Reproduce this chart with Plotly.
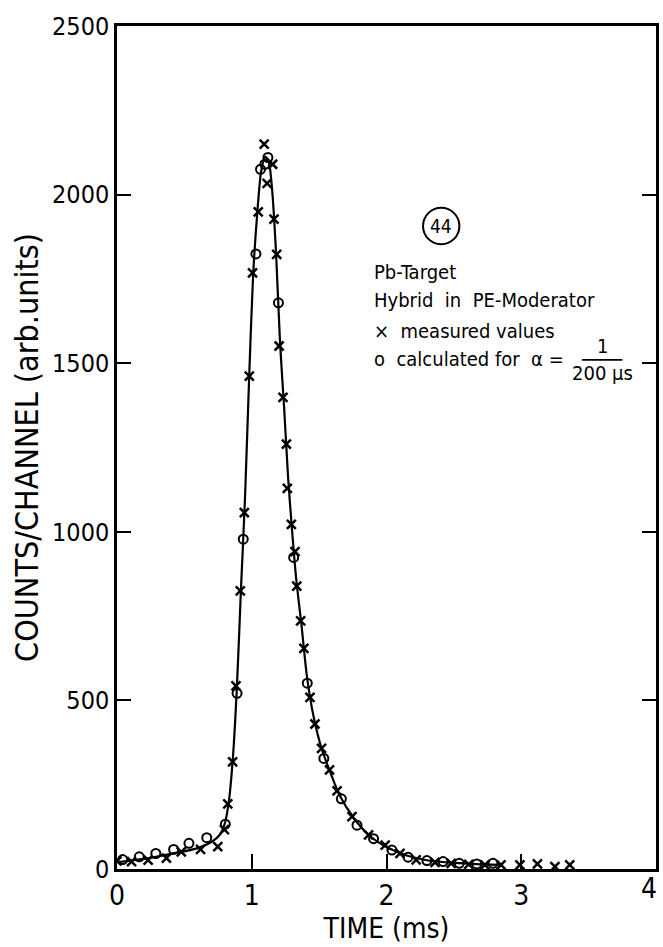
import plotly.graph_objects as go

# measured values (x markers)
meas_x = [0.0, 0.108, 0.231, 0.367, 0.477, 0.62, 0.748, 0.797, 0.822, 0.858, 0.883, 0.915,
          0.945, 0.982, 1.006, 1.048, 1.092, 1.114, 1.155, 1.165, 1.185, 1.203, 1.232, 1.257,
          1.264, 1.294, 1.321, 1.334, 1.363, 1.387, 1.432, 1.469, 1.518, 1.577, 1.633, 1.744,
          1.867, 1.99, 2.10, 2.22, 2.36, 2.48, 2.61, 2.73, 2.85, 2.99, 3.12, 3.25, 3.36]
meas_y = [24, 22, 26, 32, 51, 58, 66, 117, 193, 318, 543, 825,
          1057, 1462, 1768, 1949, 2150, 2033, 2090, 1927, 1823, 1551, 1399, 1260,
          1129, 1022, 941, 839, 736, 654, 509, 430, 358, 294, 232, 155,
          101, 71, 46, 27, 20, 17, 14, 12, 12, 12, 15, 7, 12]

# calculated for alpha = 1/200 us (open circles)
calc_x = [0.042, 0.165, 0.288, 0.42, 0.534, 0.666, 0.804, 0.891, 0.937, 1.031, 1.065, 1.097,
          1.12, 1.198, 1.311, 1.412, 1.535, 1.665, 1.781, 1.904, 2.04, 2.16, 2.30, 2.42,
          2.54, 2.67, 2.79]
calc_y = [28, 36, 46, 58, 76, 93, 133, 521, 978, 1824, 2075, 2090,
          2110, 1679, 924, 551, 328, 208, 130, 90, 56, 35, 25, 22,
          17, 15, 17]

# drawn curve
curve_x = [0.0, 0.2, 0.4, 0.6, 0.7, 0.76, 0.8, 0.83, 0.86, 0.89, 0.92, 0.95, 0.98, 1.01,
           1.04, 1.07, 1.10, 1.125, 1.15, 1.18, 1.21, 1.24, 1.27, 1.30, 1.33, 1.37, 1.41,
           1.46, 1.52, 1.58, 1.65, 1.75, 1.87, 2.0, 2.15, 2.3, 2.5, 2.7, 2.85]
curve_y = [20, 30, 45, 62, 80, 100, 135, 200, 330, 540, 830, 1100, 1450, 1760,
           1940, 2070, 2112, 2100, 2020, 1830, 1560, 1370, 1160, 1000, 860, 720, 570,
           450, 355, 290, 220, 155, 100, 65, 40, 26, 18, 14, 12]

x_ticks = [0, 1, 2, 3]
y_ticks = [0, 500, 1000, 1500, 2000, 2500]

FONT = "DejaVu Sans Condensed, DejaVu Sans, sans-serif"

fig = go.Figure()
fig.add_trace(go.Scatter(x=curve_x, y=curve_y, mode="lines",
                         line=dict(color="black", width=2.2, shape="spline", smoothing=0.7),
                         showlegend=False, hoverinfo="skip"))
fig.add_trace(go.Scatter(x=meas_x, y=meas_y, mode="markers",
                         marker=dict(symbol="x-thin-open", size=9, color="black",
                                     line=dict(width=2.5, color="black")),
                         showlegend=False))
fig.add_trace(go.Scatter(x=calc_x, y=calc_y, mode="markers",
                         marker=dict(symbol="circle-open", size=9, color="black",
                                     line=dict(width=2, color="black")),
                         showlegend=False))

tfont = dict(family=FONT, size=20, color="black")
ann = [
    dict(x=1.889, y=1770, text="Pb-Target", xanchor="left", yanchor="middle", font=tfont),
    dict(x=1.889, y=1687, text="Hybrid  in  PE-Moderator", xanchor="left", yanchor="middle", font=tfont),
    dict(x=1.889, y=1595, text="×  measured values", xanchor="left", yanchor="middle", font=tfont),
    dict(x=1.889, y=1512, text="o  calculated for  α =", xanchor="left", yanchor="middle", font=tfont),
    dict(x=3.60, y=1550, text="1", xanchor="center", yanchor="middle", font=tfont),
    dict(x=3.60, y=1472, text="200 μs", xanchor="center", yanchor="middle", font=tfont),
    dict(x=2.406, y=1907, text="44", xanchor="center", yanchor="middle",
         font=dict(family=FONT, size=19, color="black")),
    dict(x=4, y=0, text="4", xanchor="right", yanchor="top", xshift=3, yshift=-1,
         font=dict(family=FONT, size=28, color="black")),
]
for a in ann:
    a.update(xref="x", yref="y", showarrow=False)

shapes = [
    dict(type="line", xref="x", yref="y", x0=3.45, x1=3.75, y0=1510, y1=1510,
         line=dict(color="black", width=1.8)),
    dict(type="circle", xref="x", yref="y", x0=2.406 - 0.135, x1=2.406 + 0.135,
         y0=1907 - 54, y1=1907 + 54, line=dict(color="black", width=2)),
]

fig.update_layout(
    width=663, height=947,
    margin=dict(l=117, r=4, t=26, b=78),
    paper_bgcolor="white", plot_bgcolor="white",
    annotations=ann, shapes=shapes,
    showlegend=False,
    xaxis=dict(range=[0, 4], tickvals=x_ticks, ticktext=[str(v) for v in x_ticks],
               ticks="inside", ticklen=15, tickwidth=2, tickcolor="black",
               showline=True, linecolor="black", linewidth=2.5, mirror=True,
               showgrid=False, zeroline=False,
               tickfont=dict(family=FONT, size=28, color="black"),
               title=dict(text="TIME (ms)", font=dict(family=FONT, size=28, color="black"),
                          standoff=6)),
    yaxis=dict(range=[0, 2500], tickvals=y_ticks, ticktext=[str(v) for v in y_ticks],
               ticks="inside", ticklen=14, tickwidth=2, tickcolor="black",
               showline=True, linecolor="black", linewidth=2.5, mirror="ticks",
               showgrid=False, zeroline=False,
               tickfont=dict(family=FONT, size=25, color="black"),
               title=dict(text="COUNTS/CHANNEL (arb.units)",
                          font=dict(family=FONT, size=32, color="black"), standoff=4)),
)

fig.write_html("out.html")
